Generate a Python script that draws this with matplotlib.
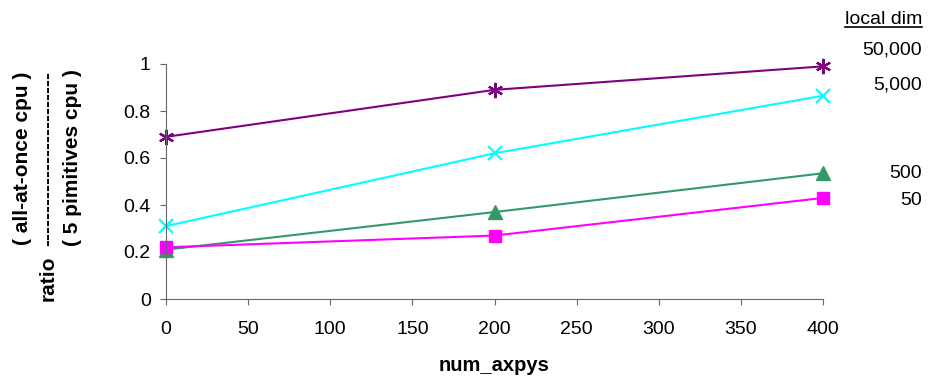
import matplotlib.pyplot as plt

plt.rcParams.update({
    "font.family": ["Liberation Sans", "DejaVu Sans"],
    "font.size": 14,
})

# num_axpys vs cpu ratio for each local dimension
num_axpys = [0, 200, 400]
ratio_50000 = [0.69, 0.89, 0.99]
ratio_5000 = [0.31, 0.62, 0.865]
ratio_500 = [0.21, 0.37, 0.535]
ratio_50 = [0.22, 0.27, 0.43]
dim_labels = ["50,000", "5,000", "500", "50"]

W, H = 930, 381
fig = plt.figure(figsize=(W / 100, H / 100), dpi=100)
ax = fig.add_axes([166 / W, 1 - 299 / H, (823 - 166) / W, (299 - 64) / H])

ax.plot(num_axpys, ratio_50000, '-', color="#800080", lw=1.5,
        marker=(6, 2, 0), ms=11, mew=1.6, clip_on=False)
ax.plot(num_axpys, ratio_5000, '-', color="#00FFFF", lw=1.5,
        marker='x', ms=10, mew=1.6, clip_on=False)
ax.plot(num_axpys, ratio_500, '-', color="#339966", lw=1.5,
        marker='^', ms=10, clip_on=False)
ax.plot(num_axpys, ratio_50, '-', color="#FF00FF", lw=1.5,
        marker='s', ms=9, clip_on=False)

ax.set_xlim(0, 400)
ax.set_ylim(0, 1)
ax.set_xticks(range(0, 401, 50))
ax.set_yticks([0, 0.2, 0.4, 0.6, 0.8, 1])
ax.set_yticklabels(["0", "0.2", "0.4", "0.6", "0.8", "1"])
ax.spines['top'].set_visible(False)
ax.spines['right'].set_visible(False)
for s in ['left', 'bottom']:
    ax.spines[s].set_color("#666666")
ax.tick_params(direction='out', length=4.5, color="#666666", labelsize=14)
ax.tick_params(axis='y', pad=6.5)
ax.tick_params(axis='x', pad=11.5)

ax.set_xlabel("num_axpys", fontweight='bold', fontsize=14.5, labelpad=13)

# stacked y label: ratio = all-at-once / 5 primitives
fig.text(22 / W, 1 - 158 / H, "( all-at-once cpu )", rotation=90,
         fontweight='bold', fontsize=15, ha='center', va='center')
fig.text(48 / W, 1 - 159 / H, "-" * 25, rotation=90,
         fontweight='bold', fontsize=15, ha='center', va='center')
fig.text(73 / W, 1 - 158 / H, "( 5 pimitives cpu )", rotation=90,
         fontweight='bold', fontsize=15, ha='center', va='center')
fig.text(48 / W, 1 - 278 / H, "ratio", rotation=90,
         fontweight='bold', fontsize=15, ha='center', va='center')

# legend as labels at the right edge
t = fig.text(922 / W, 1 - 19 / H, "local dim", ha='right', va='center', fontsize=14)
fig.canvas.draw()
bb = t.get_window_extent()
fig.add_artist(plt.Line2D([bb.x0 / W, bb.x1 / W],
                          [(bb.y0 + 1) / H, (bb.y0 + 1) / H], color='black', lw=1.2))
for lab, ypix in zip(dim_labels, [50, 85, 173, 201]):
    fig.text(922 / W, 1 - ypix / H, lab, ha='right', va='center', fontsize=14)

fig.savefig("out.png", dpi=100)
